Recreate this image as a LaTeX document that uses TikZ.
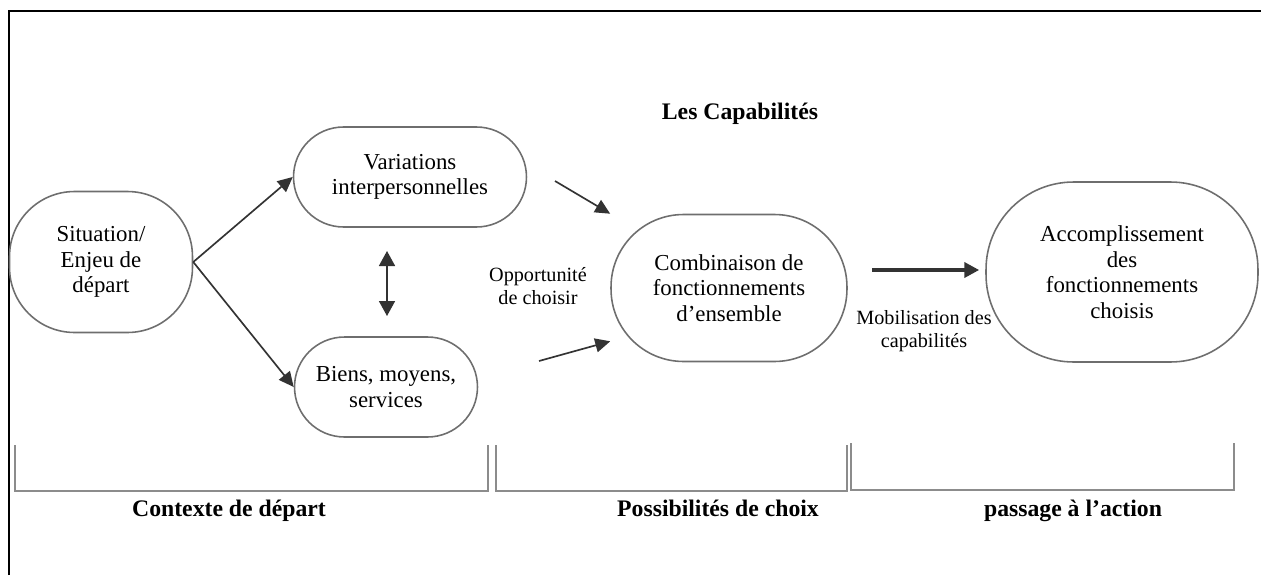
\documentclass[tikz,border=0pt]{standalone}
\usepackage{fontspec}
\setmainfont{Liberation Serif}
\usepackage{xcolor}
\usepackage{tikz}
\usetikzlibrary{arrows.meta,positioning}

\definecolor{capgray}{HTML}{6E6E6E}
\definecolor{capdark}{HTML}{333333}
\definecolor{brgray}{HTML}{8C8C8C}

\tikzset{
  capa/.style={draw=capgray,line width=0.9pt,align=center,inner sep=0pt,
    font=\fontsize{13}{14.5}\selectfont},
  fleche/.style={draw=capdark,line width=0.95pt,
    -{Triangle[length=0.3cm,width=0.28cm]}},
  double/.style={draw=capdark,line width=0.95pt,
    {Triangle[length=0.3cm,width=0.32cm]}-{Triangle[length=0.3cm,width=0.32cm]}},
  grosse/.style={draw=capdark,line width=2.8pt,
    -{Triangle[length=0.3cm,width=0.3cm]}},
  crochet/.style={draw=brgray,line width=0.7pt},
  titre/.style={anchor=base,font=\bfseries\fontsize{13.5}{16}\selectfont},
  petit/.style={align=center,font=\fontsize{11.5}{13}\selectfont}
}

\begin{document}
\begin{tikzpicture}[x=0.02cm,y=-0.02cm]
					\useasboundingbox (0,0) rectangle (1261,575);
					\draw[line width=1.2pt] (9,575) -- (9,11) -- (1261,11);
					
					% Now place the starting node (ID=node1)
					\node[capa,minimum width=3.66cm,minimum height=2.82cm,rounded corners=1.3cm] (node1) at (101,262) {Situation/\\Enjeu de\\départ};
					\node[capa,minimum width=4.66cm,minimum height=2cm,rounded corners=1cm] (node2) at (410,177) {Variations\\interpersonnelles};
					\node[capa,minimum width=3.66cm,minimum height=2cm,rounded corners=1cm] (node3) at (386,387) {Biens, moyens,\\services};
					
					% Now the combination and the achievement (ID=node4, node5)
					\node[capa,minimum width=4.72cm,minimum height=2.94cm,rounded corners=1.45cm] (node4) at (729,288) {Combinaison de\\fonctionnements\\d’ensemble};
					\node[capa,minimum width=5.44cm,minimum height=3.6cm,rounded corners=1.75cm] (node5) at (1122,272) {Accomplissement\\des\\fonctionnements\\choisis};
					
					% Labels
					\node[titre] (tit1) at (740,119) {Les Capabilités};
					\node[petit] (lab1) at (538,286) {Opportunité\\de choisir};
					\node[petit] (lab2) at (924,331) {Mobilisation des\\capabilités};
					
					% Free ends of the arrows
					\coordinate (d1) at (387,251);
					\coordinate (d2) at (387,316);
					\coordinate (a1) at (555,181);
					\coordinate (a2) at (539,361);
					\coordinate (m1) at (872,270);
					
					% Draw the arrows between the nodes
					\draw[fleche] (node1.east) -- (node2.west);
					\draw[fleche] (node1.east) -- (node3.west);
					\draw[double] (d1) -- (d2);
					\draw[fleche] (a1) -- (node4.north west);
					\draw[fleche] (a2) -- ([yshift=0.42cm]node4.south west);
					\draw[grosse,shorten >=0.12cm] (m1) -- (m1 -| node5.west);
					
					% Brackets and their titles
					\draw[crochet] (15,445) -- (15,491) -- (488,491) -- (488,445);
					\draw[crochet] (496,445) -- (496,491) -- (847,491) -- (847,445);
					\draw[crochet] (851,443) -- (851,490) -- (1234,490) -- (1234,443);
					\node[titre] (sec1) at (229,516) {Contexte de départ};
					\node[titre] (sec2) at (718,516) {Possibilités de choix};
					\node[titre] (sec3) at (1073,516) {passage à l’action};
				\end{tikzpicture}
\end{document}
